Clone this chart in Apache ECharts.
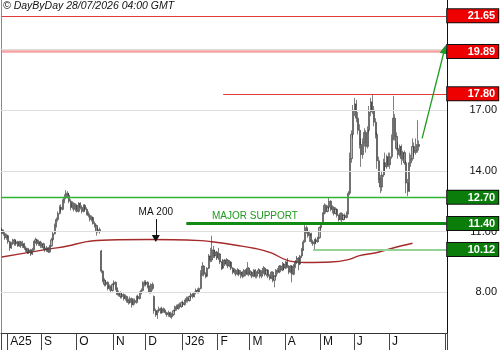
<!DOCTYPE html>
<html><head><meta charset="utf-8">
<script src="https://cdn.jsdelivr.net/npm/echarts@6/dist/echarts.min.js"></script>
<style>html,body{margin:0;padding:0;background:#fff}#c{width:500px;height:350px}</style>
</head><body><div id="c"></div>
<script>
// ---- categories: trading weekdays ----
const firstDay = '2025-07-28';
const slotCount = 278; // includes empty days to the right of the last candle
const monthKeys = ['2025-08','2025-09','2025-10','2025-11','2025-12','2026-01','2026-02','2026-03','2026-04','2026-05','2026-06','2026-07'];
const monthLabels = ['A25','S','O','N','D','J26','F','M','A','M','J','J'];
const yTickValues = [8, 11, 14, 17, 20];
const yMin = 6, yMax = 22.43;

// ---- daily candles [open, close, low, high] ----
const candles = [
[11.1,11.0,10.9,11.2],[11.0,10.9,10.8,11.1],[10.9,10.7,10.6,11.0],[10.7,10.8,10.6,10.9],[10.8,10.5,10.4,10.85],
[10.5,10.2,10.05,10.55],[10.2,10.4,10.15,10.5],[10.4,10.6,10.35,10.65],[10.6,10.4,10.3,10.65],[10.4,10.5,10.3,10.6],
[10.5,10.3,10.25,10.55],[10.3,10.5,10.25,10.55],[10.5,10.3,10.2,10.55],[10.3,10.4,10.2,10.55],[10.4,10.2,10.1,10.45],
[10.2,10.1,10.0,10.3],[10.1,10.0,9.9,10.2],[10.0,10.1,9.9,10.2],[10.1,9.9,9.8,10.15],[9.9,10.1,9.85,10.2],
[10.1,10.5,10.05,10.55],[10.5,10.6,10.4,10.7],[10.6,10.4,10.3,10.65],[10.4,10.5,10.3,10.6],[10.5,10.3,10.2,10.55],
[10.3,10.4,10.2,10.5],[10.4,10.2,10.1,10.45],[10.2,10.1,10.0,10.3],[10.1,10.2,10.0,10.3],[10.2,10.0,9.95,10.25],
[10.0,10.3,9.95,10.35],[10.3,10.6,10.25,10.7],[10.6,10.9,10.55,11.0],[10.9,11.3,10.85,11.4],[11.3,11.6,11.2,11.7],
[11.6,11.9,11.5,12.0],[11.9,12.2,11.85,12.3],[12.2,12.1,12.0,12.35],[12.1,12.5,12.05,12.6],[12.5,12.7,12.4,12.85],
[12.7,12.9,12.6,13.05],[12.9,12.8,12.65,13.0],[12.8,12.5,12.4,12.9],[12.5,12.2,12.05,12.6],[12.2,12.4,12.1,12.5],
[12.4,12.1,12.0,12.45],[12.1,12.3,12.0,12.4],[12.3,12.0,11.95,12.35],[12.0,12.4,11.95,12.45],[12.4,12.2,12.1,12.45],
[12.2,12.0,11.9,12.3],[12.0,12.3,11.95,12.35],[12.3,12.1,12.0,12.35],[12.1,11.9,11.8,12.2],[11.9,11.8,11.7,12.0],
[11.8,11.6,11.5,11.9],[11.6,11.7,11.5,11.8],[11.7,11.4,11.35,11.75],[11.4,11.3,11.2,11.5],[11.3,11.0,10.8,11.35],
[11.0,11.1,10.95,11.2],[11.1,11.0,10.9,11.2],
[10.05,9.05,8.95,10.1],[9.05,8.6,8.5,9.1],[8.6,8.4,8.3,8.7],[8.4,8.5,8.3,8.6],[8.5,8.2,8.1,8.55],
[8.2,8.3,8.1,8.4],[8.3,8.1,8.0,8.35],[8.1,8.4,8.05,8.45],[8.4,8.5,8.3,8.6],[8.5,8.2,8.1,8.55],
[8.2,7.9,7.85,8.25],[7.9,8.0,7.8,8.1],[8.0,7.8,7.7,8.05],[7.8,7.9,7.7,8.0],[7.9,7.7,7.6,7.95],
[7.7,7.8,7.6,7.9],[7.8,7.6,7.5,7.85],[7.6,7.5,7.4,7.7],[7.5,7.7,7.45,7.8],[7.7,7.4,7.25,7.75],
[7.4,7.6,7.35,7.7],[7.6,7.5,7.4,7.7],[7.5,7.8,7.45,7.85],[7.8,7.7,7.6,7.9],[7.7,8.0,7.65,8.05],
[8.0,8.1,7.9,8.2],[8.1,8.5,8.05,8.55],[8.5,8.4,8.3,8.6],[8.4,8.5,8.3,8.6],[8.5,8.3,8.2,8.55],
[8.3,8.0,7.95,8.35],[8.0,8.4,7.95,8.45],[8.4,8.2,8.1,8.5],
[7.8,7.1,6.95,7.85],[7.1,6.9,6.8,7.2],[6.9,7.1,6.7,7.15],[7.1,7.2,7.0,7.3],[7.2,7.0,6.95,7.25],
[7.0,7.2,6.95,7.3],[7.2,7.1,7.0,7.25],[7.1,7.0,6.9,7.15],[7.0,6.9,6.8,7.05],[6.9,7.0,6.8,7.1],
[7.0,6.8,6.75,7.05],[6.8,6.9,6.7,7.0],[6.9,7.1,6.85,7.15],[7.1,7.3,7.05,7.35],[7.3,7.2,7.1,7.4],
[7.2,7.4,7.15,7.45],[7.4,7.3,7.2,7.5],[7.3,7.5,7.25,7.55],[7.5,7.4,7.3,7.6],[7.4,7.6,7.35,7.65],
[7.6,7.7,7.5,7.8],[7.7,7.6,7.5,7.8],[7.6,7.8,7.55,7.85],[7.8,7.9,7.7,8.0],[7.9,7.8,7.7,8.0],
[7.8,8.0,7.75,8.05],[8.0,8.1,7.9,8.2],[8.1,8.0,7.95,8.2],[8.0,8.2,7.95,8.25],[8.2,8.9,8.15,9.1],
[8.9,9.3,8.8,9.5],[9.3,8.9,8.8,9.35],[8.9,8.8,8.7,9.0],[8.8,9.2,8.75,9.25],[9.2,9.8,9.15,9.9],
[9.8,9.6,9.5,10.2],
[9.6,10.1,9.5,10.8],[10.1,9.8,9.7,10.3],[9.8,10.0,9.7,10.1],[10.0,9.7,9.6,10.05],[9.7,9.9,9.6,10.2],
[9.9,9.5,9.4,9.95],[9.5,9.2,9.1,9.55],[9.2,9.6,9.15,9.65],[9.6,9.4,9.3,9.65],[9.4,9.6,9.3,9.7],
[9.6,9.3,9.2,9.65],[9.3,9.5,9.25,9.6],[9.5,9.2,9.1,9.55],[9.2,9.0,8.9,9.25],[9.0,9.1,8.9,9.2],
[9.1,8.9,8.8,9.15],[8.9,9.1,8.85,9.2],[9.1,8.9,8.8,9.15],[8.9,9.0,8.7,9.1],[9.0,8.8,8.7,9.05],
[8.8,9.1,8.75,9.15],[9.1,8.9,8.8,9.15],[8.9,9.2,8.85,9.5],[9.2,8.9,8.8,9.25],[8.9,9.0,8.8,9.1],
[9.0,8.8,8.7,9.05],[8.8,9.1,8.75,9.15],[9.1,8.8,8.7,9.15],[8.8,9.0,8.7,9.05],[9.0,9.1,8.9,9.2],
[9.1,8.8,8.7,9.15],[8.8,9.0,8.7,9.1],[9.0,9.2,8.9,9.3],[9.2,8.9,8.8,9.25],[8.9,9.1,8.8,9.15],
[9.1,8.8,8.7,9.15],[8.8,8.7,8.6,8.9],[8.7,9.0,8.65,9.05],[9.0,8.6,8.5,9.05],[8.6,8.8,8.25,8.85],
[8.8,9.1,8.75,9.15],[9.1,9.0,8.9,9.2],[9.0,9.3,8.95,9.35],[9.3,9.1,9.0,9.35],[9.1,9.4,9.05,9.5],
[9.4,9.2,9.1,9.45],[9.2,9.5,9.15,9.55],[9.5,9.3,9.2,9.7],[9.3,9.0,8.9,9.35],[9.0,9.3,8.95,9.35],
[9.3,8.9,8.5,9.35],[8.9,9.3,8.85,9.4],[9.3,9.5,9.2,9.6],
[9.5,9.7,9.4,9.8],[9.7,9.4,9.1,9.75],[9.4,9.8,9.35,9.85],[9.8,10.1,9.7,10.2],[10.1,10.5,10.05,10.6],
[10.5,11.2,10.45,11.4],[11.2,11.0,10.9,11.3],[11.0,10.8,10.7,11.1],[10.8,10.9,10.5,11.05],[10.9,10.5,10.4,10.95],
[10.5,10.4,10.3,10.6],[10.4,10.6,10.12,10.65],[10.6,10.5,10.4,10.7],[10.5,10.7,10.45,10.75],[10.7,11.2,10.65,11.25],
[11.2,11.4,11.1,11.45],[11.4,11.9,11.35,11.95],[11.9,12.3,11.85,12.4],[12.3,12.0,11.9,12.35],[12.0,12.2,11.95,12.3],
[12.2,12.5,12.1,12.7],[12.5,12.1,12.0,12.55],[12.1,12.2,11.9,12.3],[12.2,11.9,11.8,12.25],[11.9,12.1,11.85,12.2],
[12.1,11.8,11.7,12.15],[11.8,11.6,11.5,11.85],[11.6,11.9,11.55,11.95],[11.9,11.6,11.45,11.95],[11.6,11.8,11.55,11.85],
[11.8,11.7,11.6,11.9],[11.7,11.9,11.65,12.0],
[11.9,12.9,11.85,13.0],[12.9,14.6,12.8,14.9],[14.6,15.8,14.4,16.0],[15.8,17.0,15.6,17.25],[17.0,17.3,16.7,17.6],
[17.3,16.6,16.4,17.5],[16.6,16.0,15.8,16.9],[16.0,15.3,15.1,16.3],[15.3,14.8,14.2,15.6],[14.8,15.4,14.6,15.6],
[15.4,15.9,15.2,16.1],[15.9,15.2,14.9,16.0],[15.2,16.0,15.1,16.2],[16.0,16.9,15.9,17.2],[16.9,17.4,16.7,17.6],
[17.4,17.0,16.8,17.8],[17.0,16.4,16.2,17.2],[16.4,15.8,15.6,16.6],[15.8,14.5,14.1,15.9],[14.5,13.6,13.4,14.7],
[13.6,13.2,12.9,13.8],[13.2,13.8,13.0,14.0],[13.8,14.4,13.7,14.6],[14.4,14.2,14.0,14.9],[14.2,14.7,14.1,14.8],
[14.7,14.3,14.2,14.9],[14.3,14.7,14.1,14.9],[14.7,15.6,14.6,15.8],[15.6,16.6,15.5,17.7],[16.6,15.7,15.5,16.8],
[15.7,15.1,15.0,15.9],[15.1,14.8,14.6,15.4],[14.8,15.2,14.7,15.3],[15.2,14.6,14.3,15.3],[14.6,14.9,14.5,15.0],
[14.9,14.4,14.3,15.0],[14.4,13.4,12.9,14.5],[13.4,13.0,12.75,13.6],[13.0,14.4,12.95,14.9],[14.4,14.6,14.2,14.8],
[14.6,15.2,14.5,15.6],[15.2,14.9,14.7,15.4],[14.9,15.0,14.8,15.6],[15.0,15.3,14.9,16.5],[15.3,15.2,15.0,15.5]
];

// ---- 200-day moving average (read at sample dates) ----
const maDates = ['2025-07-28','2025-08-20','2025-09-08','2025-09-23','2025-10-09','2025-10-29','2025-12-03','2026-01-16','2026-01-27','2026-02-18','2026-03-05','2026-03-19','2026-04-02','2026-04-17','2026-05-11','2026-05-26','2026-06-04','2026-06-19','2026-07-06','2026-07-21'];
const maValues = [9.75, 9.98, 10.15, 10.29, 10.51, 10.59, 10.61, 10.56, 10.50, 10.32, 10.17, 9.95, 9.58, 9.48, 9.50, 9.62, 9.82, 9.97, 10.22, 10.43];

// ---- horizontal levels ----
const levelValues = [21.65, 19.89, 17.80, 12.70, 11.40, 10.12];
const levelStartDates = [null, null, '2026-02-05', null, '2026-01-05', '2026-04-24'];
const levelKinds = ['res', 'target', 'res', 'sup', 'major', 'minor'];

// ---- annotations ----
const arrowFrom = ['2026-07-29', 15.6];
const arrowTo = ['2026-08-18', 20.0];
const maNoteDate = '2025-12-09';
const maNoteTop = 11.62, maNoteBottom = 10.66;
const supportNote = ['2026-01-27', 11.78];

// ---------------------------------------------------------------
const FONT = 'Liberation Sans, Arial, sans-serif';
const cats = [];
(function(){
  const d = new Date(firstDay + 'T00:00:00Z');
  while (cats.length < slotCount) {
    const wd = d.getUTCDay();
    if (wd !== 0 && wd !== 6) cats.push(d.toISOString().slice(0, 10));
    d.setUTCDate(d.getUTCDate() + 1);
  }
})();
function monthStart(i) {
  if (i <= 0) return false;
  const k = cats[i].slice(0, 7);
  return k !== cats[i - 1].slice(0, 7) && monthKeys.indexOf(k) >= 0;
}
const labelOf = {};
monthKeys.forEach((k, j) => labelOf[k] = monthLabels[j]);

const lineStyles = {
  res: {color: '#e23b3b', width: 1, type: 'solid'},
  target: {color: '#f5a3a3', width: 2.5, type: 'solid'},
  sup: {color: '#2fb52f', width: 1.3, type: 'solid'},
  major: {color: '#138a13', width: 3, type: 'solid'},
  minor: {color: '#95d295', width: 2, type: 'solid'}
};
const tagColors = {res: '#ee0000', target: '#ee0000', sup: '#0a7d0a', major: '#0a7d0a', minor: '#0a7d0a'};

const markData = levelValues.map((v, j) => {
  const kind = levelKinds[j];
  return [
    {coord: [levelStartDates[j] || cats[0], v], lineStyle: lineStyles[kind],
     label: {show: true, position: 'end', distance: 1,
       formatter: '{t|' + v.toFixed(2) + '}',
       rich: {t: {width: 45, height: 12, lineHeight: 13, align: 'right', padding: [1, 3, 0, 3],
         backgroundColor: tagColors[kind], borderColor: '#111', borderWidth: 1,
         color: '#fff', fontWeight: 'bold', fontSize: 11, fontFamily: FONT}}}},
    {coord: [cats[cats.length - 1], v]}
  ];
});
markData.push([
  {coord: arrowFrom, symbol: 'none', lineStyle: {color: '#1f9a1f', width: 1.3, type: 'solid'}, label: {show: false}},
  {coord: arrowTo, symbol: 'triangle', symbolSize: [8, 9]}
]);
markData.push([
  {coord: [maNoteDate, maNoteTop], symbol: 'none', lineStyle: {color: '#111', width: 1, type: 'solid'},
   label: {show: true, position: 'start', distance: 2, formatter: 'MA 200', color: '#111', fontSize: 10, fontFamily: FONT}},
  {coord: [maNoteDate, maNoteBottom], symbol: 'triangle', symbolSize: [8, 7]}
]);
const gridMarks = yTickValues.map(v => ({yAxis: v}));

const chart = echarts.init(document.getElementById('c'), null, {renderer: 'canvas'});
chart.setOption({
  animation: false,
  backgroundColor: '#fff',
  title: {text: '© DayByDay 28/07/2026 04:00 GMT', left: 3, top: 1, padding: 0,
    textStyle: {fontSize: 10.5, fontStyle: 'italic', fontWeight: 'normal', color: '#111', fontFamily: FONT}},
  grid: {left: 1, right: 53, top: 0, bottom: 17, show: false},
  xAxis: {
    type: 'category', data: cats, boundaryGap: true,
    axisLine: {lineStyle: {color: '#333', width: 1}},
    axisTick: {show: true, length: 17, interval: (i) => i === 0 || i === cats.length - 1 || monthStart(i), lineStyle: {color: '#444'}},
    axisLabel: {interval: (i) => monthStart(i), formatter: (v) => labelOf[v.slice(0, 7)] || '',
      align: 'left', margin: 3, padding: [0, 0, 0, 2], fontSize: 12, color: '#111', fontFamily: FONT},
    splitLine: {show: false}
  },
  yAxis: [{
    type: 'value', position: 'right', min: yMin, max: yMax, interval: 1,
    axisLine: {show: true, lineStyle: {color: '#111'}},
    axisTick: {show: false},
    axisLabel: {formatter: (v) => yTickValues.indexOf(v) >= 0 ? v.toFixed(2) : '', align: 'right', margin: 50,
      showMinLabel: false, showMaxLabel: false, fontSize: 11, color: '#111', fontFamily: FONT},
    splitLine: {show: false}
  }, {
    type: 'value', position: 'left', min: yMin, max: yMax, interval: 1,
    axisLine: {show: true, lineStyle: {color: '#8a8a8a'}},
    axisTick: {show: false}, axisLabel: {show: false}, splitLine: {show: false}
  }],
  series: [
    {
      type: 'line', name: 'grid', data: [], z: 1, silent: true,
      markLine: {silent: true, symbol: ['none', 'none'], animation: false, label: {show: false},
        lineStyle: {color: '#dedede', width: 1, type: 'solid'}, data: gridMarks}
    },
    {
      type: 'line', name: 'MA 200', data: maDates.map((d, j) => [d, maValues[j]]),
      smooth: 0.4, showSymbol: false, symbol: 'none', z: 2,
      lineStyle: {color: '#a52a2a', width: 1.4}
    },
    {
      type: 'candlestick', name: 'price', data: candles, barWidth: 1.6, z: 3,
      itemStyle: {color: '#b4b4b4', color0: '#8c8c8c', borderColor: '#2a2a2a', borderColor0: '#2a2a2a', borderWidth: 0.6}
    },
    {
      type: 'line', name: 'levels', data: [], clip: false, z: 4, silent: true,
      markLine: {silent: true, symbol: ['none', 'none'], animation: false, data: markData},
      markPoint: {silent: true, data: [{coord: supportNote, symbol: 'rect', symbolSize: 0.01,
        label: {show: true, position: 'right', distance: 0, formatter: 'MAJOR SUPPORT', color: '#1d9a1d', fontSize: 10, fontFamily: FONT}}]}
    }
  ]
});
</script>
</body></html>
